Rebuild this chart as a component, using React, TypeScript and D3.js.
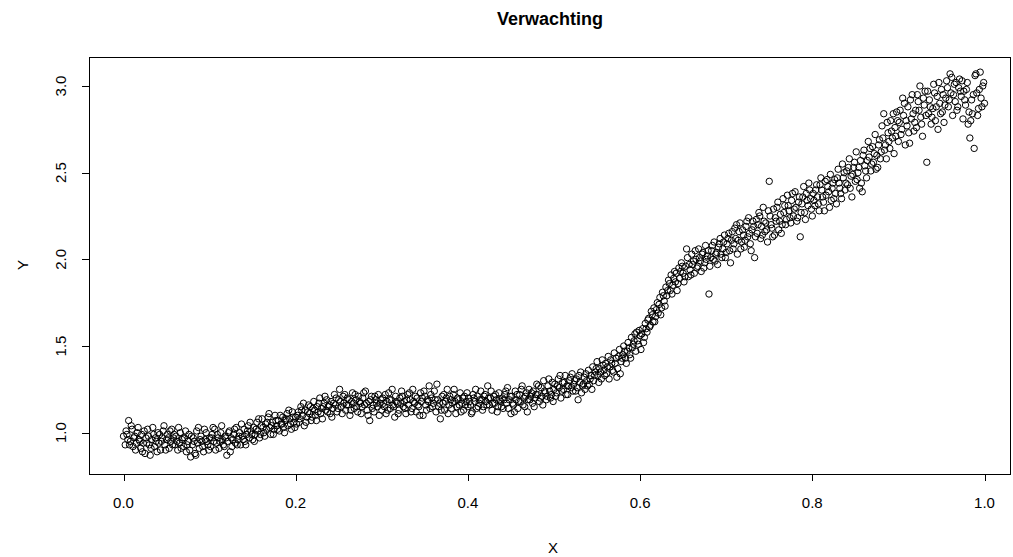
import React from "react";
import * as d3 from "d3";

const xTicks = [0, 0.2, 0.4, 0.6, 0.8, 1.0];
const yTicks = [1.0, 1.5, 2.0, 2.5, 3.0];

const segA: [number, number][] = [[0.000,0.98],[0.002,0.93],[0.003,1.01],[0.005,0.96],[0.006,1.07],[0.008,0.95],[0.010,1.02],[0.011,0.92],[0.013,0.98],[0.015,0.94],[0.016,1.00],[0.018,0.96],[0.020,0.91],[0.021,0.99],[0.023,0.94],[0.025,0.88],[0.026,0.97],[0.028,1.02],[0.030,0.93],[0.031,0.87],[0.033,0.96],[0.035,0.99],[0.036,0.92],[0.038,0.95],[0.040,1.00],[0.041,0.94],[0.043,0.90],[0.045,0.97],[0.046,1.01],[0.048,0.93],[0.050,0.96],[0.051,0.99],[0.053,0.91],[0.055,0.95],[0.056,1.02],[0.058,0.97],[0.060,0.93],[0.061,0.98],[0.063,0.90],[0.065,0.94],[0.066,1.00],[0.068,0.96],[0.070,0.92],[0.071,0.97],[0.073,0.89],[0.075,0.95],[0.076,0.99],[0.078,0.86],[0.080,0.93],[0.081,0.97],[0.083,0.88],[0.085,1.01],[0.086,0.94],[0.088,0.91],[0.090,0.98],[0.091,0.95],[0.093,0.89],[0.095,0.96],[0.096,1.00],[0.098,0.93],[0.100,0.97]];
const segA2: [number, number][] = [[0.004,0.99],[0.007,0.93],[0.009,1.04],[0.012,0.97],[0.014,0.90],[0.017,1.03],[0.019,0.95],[0.022,0.89],[0.024,1.01],[0.027,0.94],[0.029,0.98],[0.032,0.91],[0.034,1.03],[0.037,0.97],[0.039,0.89],[0.042,0.99],[0.044,0.95],[0.047,1.04],[0.049,0.90],[0.052,0.97],[0.054,1.01],[0.057,0.93],[0.059,0.99],[0.062,0.95],[0.064,1.03],[0.067,0.91],[0.069,0.97],[0.072,1.01],[0.074,0.93],[0.077,0.90],[0.079,0.98],[0.082,0.95],[0.084,0.87],[0.087,1.03],[0.089,0.96],[0.092,0.92],[0.094,1.02],[0.097,0.95],[0.099,0.90]];
const segB: [number, number][] = [[0.101,0.92],[0.103,0.99],[0.105,0.95],[0.106,1.02],[0.108,0.94],[0.110,0.97],[0.111,0.91],[0.113,1.00],[0.115,0.96],[0.116,0.93],[0.118,0.98],[0.120,0.87],[0.121,0.95],[0.123,1.01],[0.125,0.97],[0.126,0.92],[0.128,0.99],[0.130,0.94],[0.131,1.03],[0.133,0.96],[0.135,1.00],[0.136,0.93],[0.138,0.98],[0.140,1.02],[0.141,0.95],[0.143,0.99],[0.145,1.04],[0.146,0.97],[0.148,1.01],[0.150,0.96],[0.151,1.03],[0.153,0.99],[0.155,1.06],[0.156,1.01],[0.158,0.97],[0.160,1.04],[0.161,1.08],[0.163,1.00],[0.165,1.05],[0.166,1.02],[0.168,1.09],[0.170,1.03],[0.171,0.99],[0.173,1.06],[0.175,1.02],[0.176,1.10],[0.178,1.04],[0.180,1.07],[0.181,1.01],[0.183,1.05],[0.185,1.09],[0.186,1.03],[0.188,1.07],[0.190,1.11],[0.191,1.04],[0.193,1.08],[0.195,1.02],[0.196,1.12],[0.198,1.06],[0.200,1.09]];
const segB2: [number, number][] = [[0.102,0.97],[0.104,1.03],[0.107,0.90],[0.109,0.99],[0.112,0.95],[0.114,1.04],[0.117,0.92],[0.119,0.97],[0.122,1.00],[0.124,0.89],[0.127,0.96],[0.129,1.02],[0.132,0.93],[0.134,0.98],[0.137,1.05],[0.139,0.96],[0.142,0.93],[0.144,1.01],[0.147,1.06],[0.149,0.99],[0.152,0.95],[0.154,1.02],[0.157,1.08],[0.159,0.99],[0.162,1.03],[0.164,0.98],[0.167,1.06],[0.169,1.11],[0.172,1.04],[0.174,0.99],[0.177,1.07],[0.179,1.02],[0.182,1.10],[0.184,1.05],[0.187,1.00],[0.189,1.08],[0.192,1.13],[0.194,1.05],[0.197,1.09],[0.199,1.03]];
const segC: [number, number][] = [[0.201,1.05],[0.203,1.12],[0.205,1.08],[0.206,1.15],[0.208,1.10],[0.210,1.04],[0.211,1.13],[0.213,1.09],[0.215,1.16],[0.216,1.11],[0.218,1.07],[0.220,1.14],[0.221,1.18],[0.223,1.10],[0.225,1.15],[0.226,1.12],[0.228,1.20],[0.230,1.14],[0.231,1.08],[0.233,1.17],[0.235,1.13],[0.236,1.19],[0.238,1.15],[0.240,1.11],[0.241,1.18],[0.243,1.14],[0.245,1.22],[0.246,1.16],[0.248,1.12],[0.250,1.19],[0.251,1.25],[0.253,1.15],[0.255,1.21],[0.256,1.17],[0.258,1.13],[0.260,1.20],[0.261,1.16],[0.263,1.10],[0.265,1.18],[0.266,1.23],[0.268,1.14],[0.270,1.19],[0.271,1.15],[0.273,1.21],[0.275,1.17],[0.276,1.11],[0.278,1.20],[0.280,1.16],[0.281,1.24],[0.283,1.13],[0.285,1.18],[0.286,1.07],[0.288,1.21],[0.290,1.16],[0.291,1.12],[0.293,1.19],[0.295,1.15],[0.296,1.22],[0.298,1.17],[0.300,1.13]];
const segC2: [number, number][] = [[0.202,1.10],[0.204,1.06],[0.207,1.13],[0.209,1.17],[0.212,1.06],[0.214,1.12],[0.217,1.15],[0.219,1.09],[0.222,1.13],[0.224,1.07],[0.227,1.17],[0.229,1.11],[0.232,1.15],[0.234,1.21],[0.237,1.12],[0.239,1.16],[0.242,1.09],[0.244,1.17],[0.247,1.20],[0.249,1.14],[0.252,1.18],[0.254,1.11],[0.257,1.22],[0.259,1.16],[0.262,1.19],[0.264,1.13],[0.267,1.17],[0.269,1.22],[0.272,1.12],[0.274,1.18],[0.277,1.15],[0.279,1.23],[0.282,1.17],[0.284,1.10],[0.287,1.19],[0.289,1.14],[0.292,1.21],[0.294,1.17],[0.297,1.10],[0.299,1.19]];
const segD: [number, number][] = [[0.301,1.20],[0.303,1.15],[0.305,1.11],[0.306,1.18],[0.308,1.23],[0.310,1.14],[0.311,1.19],[0.313,1.16],[0.315,1.09],[0.316,1.21],[0.318,1.17],[0.320,1.13],[0.321,1.20],[0.323,1.24],[0.325,1.15],[0.326,1.18],[0.328,1.11],[0.330,1.22],[0.331,1.16],[0.333,1.19],[0.335,1.14],[0.336,1.25],[0.338,1.17],[0.340,1.12],[0.341,1.20],[0.343,1.15],[0.345,1.23],[0.346,1.18],[0.348,1.10],[0.350,1.21],[0.351,1.16],[0.353,1.19],[0.355,1.27],[0.356,1.14],[0.358,1.20],[0.360,1.17],[0.361,1.24],[0.363,1.12],[0.365,1.19],[0.366,1.15],[0.368,1.08],[0.370,1.21],[0.371,1.17],[0.373,1.13],[0.375,1.20],[0.376,1.25],[0.378,1.16],[0.380,1.19],[0.381,1.14],[0.383,1.22],[0.385,1.18],[0.386,1.11],[0.388,1.20],[0.390,1.16],[0.391,1.23],[0.393,1.17],[0.395,1.13],[0.396,1.21],[0.398,1.18],[0.400,1.15]];
const segD2: [number, number][] = [[0.302,1.17],[0.304,1.22],[0.307,1.13],[0.309,1.19],[0.312,1.25],[0.314,1.15],[0.317,1.18],[0.319,1.11],[0.322,1.17],[0.324,1.21],[0.327,1.14],[0.329,1.19],[0.332,1.23],[0.334,1.12],[0.337,1.18],[0.339,1.21],[0.342,1.16],[0.344,1.10],[0.347,1.20],[0.349,1.24],[0.352,1.13],[0.354,1.18],[0.357,1.22],[0.359,1.15],[0.362,1.19],[0.364,1.28],[0.367,1.17],[0.369,1.13],[0.372,1.22],[0.374,1.18],[0.377,1.11],[0.379,1.21],[0.382,1.17],[0.384,1.25],[0.387,1.15],[0.389,1.19],[0.392,1.12],[0.394,1.20],[0.397,1.16],[0.399,1.23]];
const segE: [number, number][] = [[0.401,1.20],[0.403,1.16],[0.405,1.12],[0.406,1.22],[0.408,1.18],[0.410,1.14],[0.411,1.21],[0.413,1.17],[0.415,1.24],[0.416,1.19],[0.418,1.15],[0.420,1.22],[0.421,1.18],[0.423,1.27],[0.425,1.16],[0.426,1.20],[0.428,1.13],[0.430,1.21],[0.431,1.17],[0.433,1.19],[0.435,1.15],[0.436,1.23],[0.438,1.18],[0.440,1.20],[0.441,1.14],[0.443,1.22],[0.445,1.17],[0.446,1.26],[0.448,1.19],[0.450,1.11],[0.451,1.21],[0.453,1.16],[0.455,1.24],[0.456,1.19],[0.458,1.14],[0.460,1.22],[0.461,1.18],[0.463,1.27],[0.465,1.20],[0.466,1.15],[0.468,1.23],[0.470,1.19],[0.471,1.25],[0.473,1.21],[0.475,1.17],[0.476,1.24],[0.478,1.20],[0.480,1.28],[0.481,1.22],[0.483,1.18],[0.485,1.26],[0.486,1.21],[0.488,1.30],[0.490,1.23],[0.491,1.19],[0.493,1.27],[0.495,1.24],[0.496,1.20],[0.498,1.29],[0.500,1.25]];
const segE2: [number, number][] = [[0.402,1.18],[0.404,1.11],[0.407,1.20],[0.409,1.25],[0.412,1.15],[0.414,1.19],[0.417,1.13],[0.419,1.21],[0.422,1.16],[0.424,1.20],[0.427,1.24],[0.429,1.17],[0.432,1.22],[0.434,1.12],[0.437,1.19],[0.439,1.15],[0.442,1.19],[0.444,1.24],[0.447,1.14],[0.449,1.21],[0.452,1.17],[0.454,1.12],[0.457,1.22],[0.459,1.18],[0.462,1.25],[0.464,1.16],[0.467,1.21],[0.469,1.12],[0.472,1.19],[0.474,1.23],[0.477,1.15],[0.479,1.22],[0.482,1.27],[0.484,1.20],[0.487,1.16],[0.489,1.24],[0.492,1.21],[0.494,1.31],[0.497,1.22],[0.499,1.18]];
const segF: [number, number][] = [[0.501,1.28],[0.503,1.23],[0.505,1.31],[0.506,1.26],[0.508,1.20],[0.510,1.29],[0.511,1.25],[0.513,1.33],[0.515,1.27],[0.516,1.22],[0.518,1.30],[0.520,1.26],[0.521,1.34],[0.523,1.28],[0.525,1.24],[0.526,1.31],[0.528,1.19],[0.530,1.29],[0.531,1.35],[0.533,1.27],[0.535,1.32],[0.536,1.25],[0.538,1.30],[0.540,1.36],[0.541,1.28],[0.543,1.33],[0.545,1.38],[0.546,1.30],[0.548,1.35],[0.550,1.41],[0.551,1.33],[0.553,1.37],[0.555,1.31],[0.556,1.42],[0.558,1.36],[0.560,1.40],[0.561,1.34],[0.563,1.44],[0.565,1.38],[0.566,1.42],[0.568,1.36],[0.570,1.46],[0.571,1.40],[0.573,1.32],[0.575,1.44],[0.576,1.48],[0.578,1.41],[0.580,1.45],[0.581,1.50],[0.583,1.43],[0.585,1.47],[0.586,1.52],[0.588,1.45],[0.590,1.55],[0.591,1.49],[0.593,1.53],[0.595,1.47],[0.596,1.58],[0.598,1.51],[0.600,1.56]];
const segF2: [number, number][] = [[0.502,1.21],[0.504,1.27],[0.507,1.33],[0.509,1.24],[0.512,1.29],[0.514,1.22],[0.517,1.27],[0.519,1.32],[0.522,1.24],[0.524,1.30],[0.527,1.26],[0.529,1.33],[0.532,1.23],[0.534,1.28],[0.537,1.34],[0.539,1.27],[0.542,1.31],[0.544,1.25],[0.547,1.33],[0.549,1.37],[0.552,1.29],[0.554,1.35],[0.557,1.39],[0.559,1.33],[0.562,1.38],[0.564,1.31],[0.567,1.40],[0.569,1.35],[0.572,1.43],[0.574,1.37],[0.577,1.34],[0.579,1.43],[0.582,1.47],[0.584,1.40],[0.587,1.49],[0.589,1.43],[0.592,1.51],[0.594,1.57],[0.597,1.53],[0.599,1.59]];
const segG: [number, number][] = [[0.601,1.48],[0.603,1.60],[0.605,1.55],[0.606,1.63],[0.608,1.58],[0.610,1.66],[0.611,1.61],[0.613,1.70],[0.615,1.64],[0.616,1.72],[0.618,1.67],[0.620,1.75],[0.621,1.69],[0.623,1.78],[0.625,1.72],[0.626,1.81],[0.628,1.76],[0.630,1.84],[0.631,1.79],[0.633,1.88],[0.635,1.82],[0.636,1.91],[0.638,1.85],[0.640,1.93],[0.641,1.87],[0.643,1.82],[0.645,1.95],[0.646,1.89],[0.648,1.98],[0.650,1.92],[0.651,1.87],[0.653,1.96],[0.655,2.01],[0.656,1.90],[0.658,1.94],[0.660,2.03],[0.661,1.97],[0.663,1.92],[0.665,2.00],[0.666,1.95],[0.668,2.06],[0.670,1.99],[0.671,1.93],[0.673,2.04],[0.675,1.98],[0.676,2.08],[0.678,2.02],[0.680,1.80],[0.681,1.96],[0.683,2.05],[0.685,2.00],[0.686,2.10],[0.688,2.03],[0.690,1.97],[0.691,2.07],[0.693,2.12],[0.695,2.01],[0.696,2.06],[0.698,2.14],[0.700,2.04]];
const segG2: [number, number][] = [[0.602,1.57],[0.604,1.52],[0.607,1.60],[0.609,1.65],[0.612,1.62],[0.614,1.68],[0.617,1.64],[0.619,1.71],[0.622,1.74],[0.624,1.68],[0.627,1.79],[0.629,1.73],[0.632,1.82],[0.634,1.86],[0.637,1.80],[0.639,1.89],[0.642,1.92],[0.644,1.86],[0.647,1.93],[0.649,1.96],[0.652,1.90],[0.654,2.06],[0.657,1.97],[0.659,1.91],[0.662,1.99],[0.664,2.05],[0.667,1.96],[0.669,2.01],[0.672,2.03],[0.674,1.95],[0.677,2.00],[0.679,2.05],[0.682,2.01],[0.684,2.08],[0.687,1.99],[0.689,2.04],[0.692,2.09],[0.694,2.03],[0.697,2.10],[0.699,2.01]];
const segH: [number, number][] = [[0.701,2.09],[0.703,2.15],[0.705,1.98],[0.706,2.11],[0.708,2.06],[0.710,2.18],[0.711,2.12],[0.713,2.03],[0.715,2.16],[0.716,2.21],[0.718,2.10],[0.720,2.14],[0.721,2.07],[0.723,2.19],[0.725,2.13],[0.726,2.24],[0.728,2.09],[0.730,2.17],[0.731,2.22],[0.733,2.01],[0.735,2.23],[0.736,2.15],[0.738,2.27],[0.740,2.12],[0.741,2.19],[0.743,2.30],[0.745,2.16],[0.746,2.21],[0.748,2.10],[0.750,2.45],[0.751,2.25],[0.753,2.18],[0.755,2.29],[0.756,2.14],[0.758,2.22],[0.760,2.33],[0.761,2.17],[0.763,2.26],[0.765,2.20],[0.766,2.35],[0.768,2.31],[0.770,2.23],[0.771,2.37],[0.773,2.28],[0.775,2.21],[0.776,2.34],[0.778,2.25],[0.780,2.39],[0.781,2.30],[0.783,2.24],[0.785,2.36],[0.786,2.13],[0.788,2.32],[0.790,2.42],[0.791,2.27],[0.793,2.38],[0.795,2.31],[0.796,2.44],[0.798,2.35],[0.800,2.25]];
const segH2: [number, number][] = [[0.702,2.12],[0.704,2.05],[0.707,2.16],[0.709,2.09],[0.712,2.20],[0.714,2.11],[0.717,2.06],[0.719,2.17],[0.722,2.11],[0.724,2.22],[0.727,2.15],[0.729,2.05],[0.732,2.19],[0.734,2.13],[0.737,2.20],[0.739,2.25],[0.742,2.14],[0.744,2.22],[0.747,2.17],[0.749,2.28],[0.752,2.20],[0.754,2.13],[0.757,2.24],[0.759,2.30],[0.762,2.22],[0.764,2.15],[0.767,2.27],[0.769,2.20],[0.772,2.31],[0.774,2.24],[0.777,2.38],[0.779,2.29],[0.782,2.22],[0.784,2.33],[0.787,2.27],[0.789,2.36],[0.792,2.23],[0.794,2.34],[0.797,2.40],[0.799,2.29]];
const segI: [number, number][] = [[0.801,2.38],[0.803,2.31],[0.805,2.43],[0.806,2.36],[0.808,2.28],[0.810,2.47],[0.811,2.40],[0.813,2.33],[0.815,2.45],[0.816,2.37],[0.818,2.42],[0.820,2.30],[0.821,2.49],[0.823,2.41],[0.825,2.35],[0.826,2.46],[0.828,2.32],[0.830,2.52],[0.831,2.44],[0.833,2.38],[0.835,2.55],[0.836,2.47],[0.838,2.40],[0.840,2.51],[0.841,2.43],[0.843,2.58],[0.845,2.48],[0.846,2.36],[0.848,2.53],[0.850,2.45],[0.851,2.62],[0.853,2.50],[0.855,2.41],[0.856,2.57],[0.858,2.39],[0.860,2.63],[0.861,2.54],[0.863,2.47],[0.865,2.68],[0.866,2.59],[0.868,2.51],[0.870,2.65],[0.871,2.56],[0.873,2.72],[0.875,2.60],[0.876,2.53],[0.878,2.69],[0.880,2.62],[0.881,2.77],[0.883,2.84],[0.885,2.66],[0.886,2.58],[0.888,2.73],[0.890,2.64],[0.891,2.80],[0.893,2.70],[0.895,2.61],[0.896,2.76],[0.898,2.85],[0.900,2.68]];
const segI2: [number, number][] = [[0.802,2.34],[0.804,2.40],[0.807,2.32],[0.809,2.43],[0.812,2.36],[0.814,2.28],[0.817,2.46],[0.819,2.39],[0.822,2.34],[0.824,2.44],[0.827,2.38],[0.829,2.47],[0.832,2.41],[0.834,2.35],[0.837,2.50],[0.839,2.44],[0.842,2.53],[0.844,2.41],[0.847,2.49],[0.849,2.56],[0.852,2.46],[0.854,2.53],[0.857,2.44],[0.859,2.60],[0.862,2.51],[0.864,2.57],[0.867,2.64],[0.869,2.55],[0.872,2.61],[0.874,2.52],[0.877,2.66],[0.879,2.58],[0.882,2.70],[0.884,2.63],[0.887,2.79],[0.889,2.68],[0.892,2.74],[0.894,2.84],[0.897,2.71],[0.899,2.80]];
const segJ: [number, number][] = [[0.901,2.79],[0.903,2.72],[0.905,2.93],[0.906,2.83],[0.908,2.66],[0.910,2.77],[0.911,2.88],[0.913,2.67],[0.915,2.81],[0.916,2.95],[0.918,2.74],[0.920,2.86],[0.921,2.76],[0.923,2.91],[0.925,3.00],[0.926,2.82],[0.928,2.71],[0.930,2.89],[0.931,2.97],[0.933,2.56],[0.935,2.84],[0.936,2.92],[0.938,2.78],[0.940,2.87],[0.941,3.01],[0.943,2.80],[0.945,2.94],[0.946,2.75],[0.948,2.90],[0.950,2.98],[0.951,2.85],[0.953,2.79],[0.955,2.93],[0.956,3.03],[0.958,2.88],[0.960,3.07],[0.961,2.96],[0.963,2.83],[0.965,3.01],[0.966,2.91],[0.968,2.86],[0.970,2.99],[0.971,3.04],[0.973,2.94],[0.975,2.81],[0.976,2.97],[0.978,2.89],[0.980,3.02],[0.981,2.78],[0.983,2.70],[0.985,2.92],[0.986,2.84],[0.988,2.64],[0.990,3.07],[0.991,2.96],[0.993,2.87],[0.995,3.08],[0.996,2.93],[0.998,3.00],[1.000,2.90]];
const segJ2: [number, number][] = [[0.902,2.86],[0.904,2.75],[0.907,2.90],[0.909,2.80],[0.912,2.73],[0.914,2.92],[0.917,2.84],[0.919,2.79],[0.922,2.95],[0.924,2.86],[0.927,2.78],[0.929,2.93],[0.932,2.83],[0.934,2.97],[0.937,2.88],[0.939,2.82],[0.942,2.96],[0.944,2.88],[0.947,3.02],[0.949,2.84],[0.952,2.95],[0.954,2.89],[0.957,2.99],[0.959,2.92],[0.962,3.05],[0.964,2.95],[0.967,3.02],[0.969,2.88],[0.972,2.97],[0.974,3.03],[0.977,2.92],[0.979,2.98],[0.982,2.85],[0.984,2.80],[0.987,2.95],[0.989,3.06],[0.992,2.83],[0.994,2.98],[0.997,2.88],[0.999,3.02]];

const points = [
  ...segA, ...segA2, ...segB, ...segB2, ...segC, ...segC2, ...segD, ...segD2, ...segE, ...segE2,
  ...segF, ...segF2, ...segG, ...segG2, ...segH, ...segH2, ...segI, ...segI2, ...segJ, ...segJ2,
];

const W = 1013;
const H = 557;
const box = { left: 89, right: 1010, top: 57, bottom: 474 };

export default function App() {
  const x = d3.scaleLinear().domain([0, 1]).range([123.5, 984.5]);
  const y = d3.scaleLinear().domain([1, 3]).range([432.7, 86]);
  const font = "Arial, 'Liberation Sans', sans-serif";
  return (
    <svg width={W} height={H} style={{ position: "absolute", left: 0, top: 0, background: "#fff" }}>
      <rect x={0} y={0} width={W} height={H} fill="#fff" />
      <text x={550} y={25} textAnchor="middle" fontFamily={font} fontWeight="bold" fontSize={18}>Verwachting</text>
      <rect x={box.left + 0.5} y={box.top + 0.5} width={box.right - box.left} height={box.bottom - box.top} fill="none" stroke="#000" strokeWidth={1} />
      {xTicks.map((t) => (
        <g key={"x" + t}>
          <line x1={Math.round(x(t)) + 0.5} x2={Math.round(x(t)) + 0.5} y1={box.bottom} y2={box.bottom + 7} stroke="#000" />
          <text x={x(t)} y={508} textAnchor="middle" fontFamily={font} fontSize={15}>{t.toFixed(1)}</text>
        </g>
      ))}
      {yTicks.map((t) => (
        <g key={"y" + t}>
          <line x1={box.left - 7} x2={box.left} y1={Math.round(y(t)) + 0.5} y2={Math.round(y(t)) + 0.5} stroke="#000" />
          <text transform={`translate(66,${y(t)}) rotate(-90)`} textAnchor="middle" fontFamily={font} fontSize={15}>{t.toFixed(1)}</text>
        </g>
      ))}
      <text x={553} y={553} textAnchor="middle" fontFamily={font} fontSize={15}>X</text>
      <text transform="translate(28,265) rotate(-90)" textAnchor="middle" fontFamily={font} fontSize={15}>Y</text>
      <g>
        {points.map(([px, py], i) => (
          <circle key={i} cx={x(px)} cy={y(py)} r={3.2} fill="none" stroke="#000" strokeWidth={1} />
        ))}
      </g>
    </svg>
  );
}
